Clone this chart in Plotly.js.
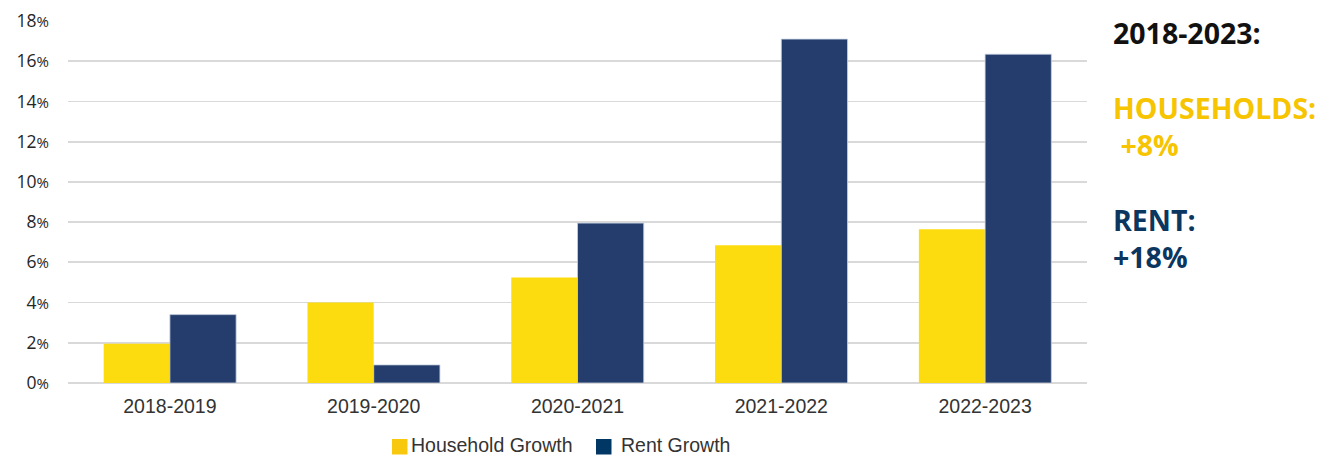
<!DOCTYPE html>
<html>
<head>
<meta charset="utf-8">
<script src="https://cdn.plot.ly/plotly-3.0.1.min.js"></script>
<style>html,body{margin:0;padding:0;background:#fff;}#chart{width:1332px;height:455px;}</style>
</head>
<body>
<div id="chart"></div>
<script>
const categories = ["2018-2019", "2019-2020", "2020-2021", "2021-2022", "2022-2023"];
const householdGrowth = [1.95, 4.0, 5.25, 6.85, 7.65];
const rentGrowth = [3.4, 0.9, 7.95, 17.1, 16.35];
const yTickVals = [0, 2, 4, 6, 8, 10, 12, 14, 16, 18];
const seriesNames = ["Household Growth", "Rent Growth"];
const summaryLines = ["2018-2023:", "HOUSEHOLDS:", "\u00a0+8%", "RENT:", "+18%"];

const W = 1332, H = 455;
const L = 68, R = 1087, T = 21, B = 383;
const px = x => (x - L) / (R - L);
const py = y => (B - y) / (B - T);

const tickText = yTickVals.map(v => v + "<span style='font-size:15px'>%</span>");

const traces = [
  {type: "bar", name: seriesNames[0], x: categories, y: householdGrowth,
   marker: {color: "#FDDC0F", line: {width: 0}}, showlegend: false, hoverinfo: "x+y"},
  {type: "bar", name: seriesNames[1], x: categories, y: rentGrowth,
   marker: {color: "#253D6C", line: {color: "rgba(200,210,225,0.8)", width: 1}}, showlegend: false, hoverinfo: "x+y"}
];

const textFont = "'Open Sans', 'Noto Sans', sans-serif";
const summaryColors = ["#111111", "#F6C400", "#F6C400", "#0B365F", "#0B365F"];
const summaryY = [33, 108, 145, 220, 257];
const annotations = summaryLines.map((t, i) => ({
  xref: "paper", yref: "paper", x: px(1111), y: py(summaryY[i]),
  xanchor: "left", yanchor: "middle", showarrow: false,
  text: "<b>" + t + "</b>",
  font: {family: textFont, size: 28.5, color: summaryColors[i]}
}));

// custom legend
const legendFont = {family: "'Liberation Sans', Arial, sans-serif", size: 19.5, color: "#333333"};
annotations.push({xref: "paper", yref: "paper", x: px(409), y: py(444.5), xanchor: "left", yanchor: "middle",
  showarrow: false, text: seriesNames[0], font: legendFont});
annotations.push({xref: "paper", yref: "paper", x: px(619), y: py(444.5), xanchor: "left", yanchor: "middle",
  showarrow: false, text: seriesNames[1], font: legendFont});
const shapes = [
  {type: "rect", xref: "paper", yref: "paper", x0: px(392), x1: px(407.5), y0: py(454.5), y1: py(439), fillcolor: "#F8C80E", line: {width: 0}},
  {type: "rect", xref: "paper", yref: "paper", x0: px(596), x1: px(611.5), y0: py(454.5), y1: py(439), fillcolor: "#003764", line: {width: 0}}
];

const layout = {
  width: W, height: H,
  margin: {l: L, r: W - R, t: T, b: H - B, pad: 0},
  paper_bgcolor: "#ffffff", plot_bgcolor: "#ffffff",
  barmode: "group", bargap: 0.35, bargroupgap: 0,
  showlegend: false,
  xaxis: {type: "category", showgrid: false, zeroline: false, showline: false, ticks: "",
    tickfont: {family: "'Liberation Sans', Arial, sans-serif", size: 19.5, color: "#333333"},
    ticklabelstandoff: 9, fixedrange: true},
  yaxis: {range: [0, 18], tickvals: yTickVals, ticktext: tickText, showgrid: true,
    gridcolor: "#D9D9D9", gridwidth: 1.7, zeroline: true, zerolinecolor: "#D9D9D9", zerolinewidth: 1.7,
    showline: false, ticks: "",
    tickfont: {family: "'Open Sans', 'Noto Sans', sans-serif", size: 17.5, color: "#262626"},
    ticklabelstandoff: 18, fixedrange: true},
  annotations: annotations,
  shapes: shapes
};

Plotly.newPlot("chart", traces, layout, {displayModeBar: false, staticPlot: true});
</script>
</body>
</html>
